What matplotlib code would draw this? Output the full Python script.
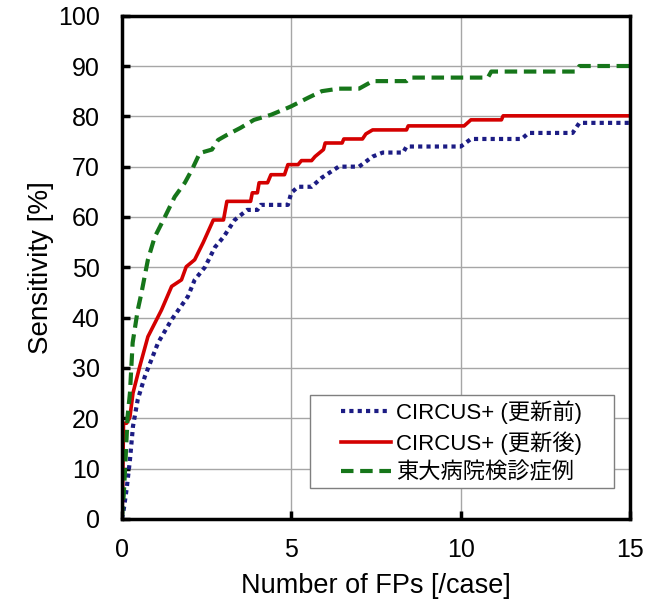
import matplotlib.pyplot as plt
from matplotlib.patches import Rectangle

plt.rcParams['font.family'] = ['Liberation Sans', 'Noto Sans CJK JP', 'DejaVu Sans']

# FROC curves (x: FPs per case, y: sensitivity %)
before_x = [0, 0.06, 0.14, 0.24, 0.33, 0.47, 0.68, 1.07, 1.47, 1.95, 2.15, 2.45, 2.75, 3.0,
            3.33, 3.7, 4.0, 4.1, 4.9, 5.0, 5.2, 5.6, 5.9, 6.4, 7.0, 7.4, 7.7, 8.3, 8.4,
            10.0, 10.3, 11.8, 12.0, 13.3, 13.5, 15.0]
before_y = [0, 2.0, 5.8, 11.7, 18.4, 23.7, 28.3, 35.0, 39.6, 44.2, 47.5, 50.0, 54.0, 56.0,
            59.4, 61.4, 61.4, 62.4, 62.4, 64.8, 66.0, 66.0, 67.8, 70.0, 70.0, 72.0, 72.8, 72.8, 74.0,
            74.0, 75.5, 75.5, 76.7, 76.7, 78.7, 78.7]

after_x = [0, 0.02, 0.03, 0.05, 0.14, 0.24, 0.33, 0.53, 0.77, 1.17, 1.47, 1.76, 1.9, 2.15,
           2.4, 2.7, 3.0, 3.1, 3.8, 3.85, 4.0, 4.05, 4.3, 4.4, 4.8, 4.9, 5.2, 5.3, 5.6, 5.7, 5.95,
           6.0, 6.5, 6.55, 7.1, 7.2, 7.4, 8.4, 8.45, 10.1, 10.3, 11.2, 11.25, 15.0]
after_y = [0, 4.0, 8.4, 19.0, 19.0, 20.3, 25.0, 30.3, 36.2, 41.5, 46.2, 47.5, 50.1, 51.5,
           54.9, 59.4, 59.4, 63.1, 63.1, 64.8, 64.8, 66.8, 66.8, 68.4, 68.4, 70.4, 70.4, 71.2, 71.2, 72.0, 73.4,
           74.7, 74.7, 75.5, 75.5, 76.5, 77.3, 77.3, 78.1, 78.1, 79.3, 79.3, 80.1, 80.1]

todai_x = [0, 0.06, 0.11, 0.17, 0.24, 0.32, 0.47, 0.58, 0.77, 0.97, 1.27, 1.56, 1.86, 2.07,
           2.3, 2.66, 2.84, 3.1, 3.5, 3.9, 4.4, 4.9, 5.0, 5.5, 5.9, 6.4, 7.0, 7.4, 8.4, 8.5,
           10.8, 10.9, 13.4, 13.5, 15.0]
todai_y = [0, 5.1, 11.7, 20.3, 25.0, 35.0, 41.5, 44.9, 51.5, 56.0, 60.0, 64.0, 66.8, 69.4,
           72.7, 73.4, 75.3, 76.3, 77.7, 79.3, 80.3, 81.7, 82.0, 83.7, 85.0, 85.5, 85.5, 87.0, 87.0, 87.7,
           87.7, 88.9, 88.9, 90.0, 90.0]

labels = ['CIRCUS+ (更新前)', 'CIRCUS+ (更新後)', '東大病院検診症例']

fig = plt.figure(figsize=(6.62, 6.04), dpi=100)
ax = fig.add_axes([0.184, 0.141, 0.768, 0.833])

ax.plot(before_x, before_y, color='#1c1c84', lw=3, ls=(0, (1, 1)), label=labels[0])
ax.plot(after_x, after_y, color='#d40000', lw=2.6, label=labels[1])
ax.plot(todai_x, todai_y, color='#16761a', lw=3, ls=(0, (3, 1.6)), label=labels[2])

ax.set_xlim(0, 15)
ax.set_ylim(0, 100)
ax.set_xticks([0, 5, 10, 15])
ax.set_yticks(range(0, 101, 10))
ax.grid(True, color='#a6a6a6', lw=1)
ax.set_axisbelow(True)
for s in ax.spines.values():
    s.set_linewidth(2.5)
ax.tick_params(direction='in', length=6, width=2.5, labelsize=18)
ax.tick_params(axis='y', pad=16)
ax.tick_params(axis='x', pad=14)
ax.set_xlabel('Number of FPs [/case]', fontsize=19.5, labelpad=8)
ax.set_ylabel('Sensitivity [%]', fontsize=20, labelpad=3)

# legend frame is wider than its contents in the original, so draw it separately
ax.add_patch(Rectangle((0.370, 0.062), 0.599, 0.185, transform=ax.transAxes,
                       facecolor='white', edgecolor='#7f7f7f', lw=1, zorder=4.5))
leg = ax.legend(loc='center', bbox_to_anchor=(0.669, 0.153), fontsize=16,
                frameon=False, handlelength=2.25, handletextpad=0.22,
                borderpad=0, labelspacing=0.32, borderaxespad=0)

fig.savefig('out.png', dpi=100)
